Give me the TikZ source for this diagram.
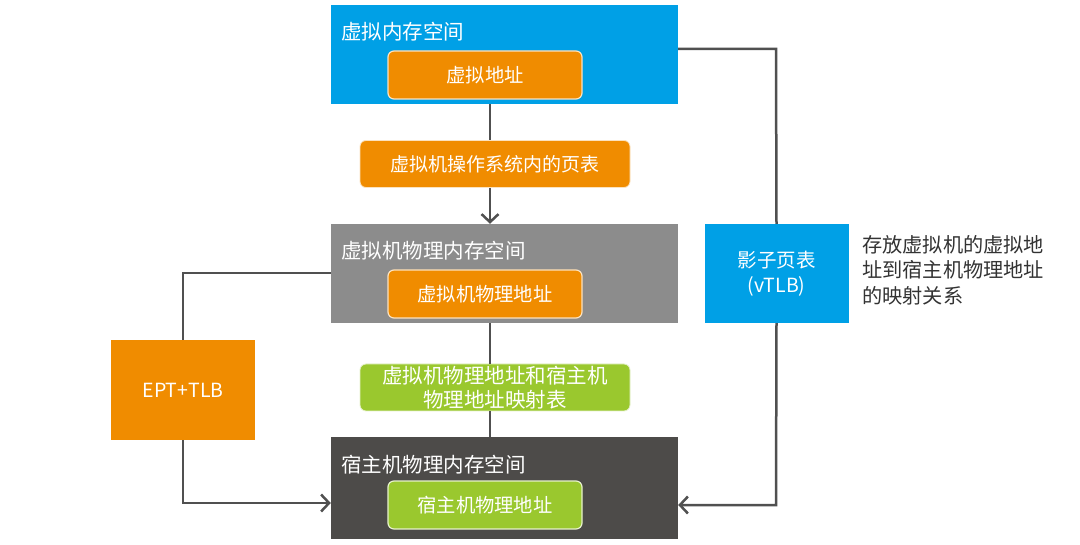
\documentclass[tikz,border=0pt]{standalone}
\usepackage{fontspec}
\setmainfont{Noto Sans CJK SC}
\usetikzlibrary{arrows.meta}
\definecolor{cblue}{RGB}{0,160,230}
\definecolor{corange}{RGB}{240,140,0}
\definecolor{cgray}{RGB}{140,140,140}
\definecolor{cdark}{RGB}{77,75,73}
\definecolor{cgreen}{RGB}{154,200,46}
\definecolor{cline}{RGB}{80,80,80}
\definecolor{ctext}{RGB}{51,51,51}
\begin{document}
\begin{tikzpicture}[x=1pt,y=-1pt,
  space/.style={rectangle, minimum width=347pt, minimum height=99pt, inner sep=0pt},
  inbox/.style={rectangle, rounded corners=6pt, draw=white!75!#1, line width=1.2pt, fill=#1,
    minimum width=194pt, minimum height=48pt, inner sep=0pt, text=white,
    font=\fontsize{19.3}{22}\selectfont},
  midbox/.style={rectangle, rounded corners=6pt, fill=#1, draw=white!75!#1, line width=0.8pt,
    minimum width=270pt, minimum height=47pt, inner sep=0pt, text=white, align=center,
    font=\fontsize{19}{24}\selectfont},
  sidebox/.style={rectangle, fill=#1, minimum width=144pt, minimum height=100pt, inner sep=0pt,
    text=white, align=center, font=\fontsize{19.5}{25}\selectfont},
  title/.style={anchor=west, text=white, inner sep=0pt, font=\fontsize{20.5}{22}\selectfont},
  conn/.style={draw=cline, line width=2.5pt},
  arr/.style={conn, -{Straight Barb[length=8pt,width=17pt,line width=2.5pt]}}
]
\fill[white] (0,0) rectangle (1080,545);
\useasboundingbox (0,0) rectangle (1080,545);

% memory spaces
\node[space, fill=cblue] (vspace) at (504.5,54.5) {};
\node[title] (vtitle) at (341,32) {虚拟内存空间};
\node[inbox=corange] (vaddr) at (485,75) {虚拟地址};

\node[space, fill=cgray] (gspace) at (504.5,273.5) {};
\node[title] (gtitle) at (341,251) {虚拟机物理内存空间};
\node[inbox=corange] (gaddr) at (485,294) {虚拟机物理地址};

\node[space, fill=cdark, minimum height=102pt] (hspace) at (504.5,488) {};
\node[title] (htitle) at (341,465) {宿主机物理内存空间};
\node[inbox=cgreen] (haddr) at (485,505) {宿主机物理地址};

% middle tables
\node[midbox=corange] (pt) at (495,164) {虚拟机操作系统内的页表};
\node[midbox=cgreen, font=\fontsize{20.5}{24}\selectfont] (map) at (495,387.5) {虚拟机物理地址和宿主机\\物理地址映射表};

% side boxes
\node[sidebox=corange] (ept) at (183,390) {EPT+TLB};
\node[sidebox=cblue, minimum height=99pt] (vtlb) at (776.5,273.5) {影子页表\\(vTLB)};
\node[anchor=north west, inner sep=0pt, text=ctext, align=left,
      font=\fontsize{20.2}{25.5}\selectfont] (note) at (862,235)
      {存放虚拟机的虚拟地\\址到宿主机物理地址\\的映射关系};

% connector coordinates
\coordinate (cx) at (490,0);
\coordinate (lx) at (183,273);
\coordinate (ly) at (183,503);
\coordinate (rx) at (776,49);
\coordinate (ry) at (776,505);

% connectors
\draw[conn] (vspace.south -| cx) -- (pt.north -| cx);
\draw[arr] (pt.south -| cx) -- (gspace.north -| cx);
\draw[conn] (gspace.south -| cx) -- (map.north -| cx);
\draw[conn] (map.south -| cx) -- (hspace.north -| cx);

\draw[conn] (gspace.west |- lx) -- (lx) -- (ept.north);
\draw[arr] (ept.south) -- (ly) -- (hspace.west |- ly);

\draw[conn] (vspace.east |- rx) -- (rx) -- (vtlb.north);
\draw[arr] (vtlb.south) -- (ry) -- (hspace.east |- ry);
\end{tikzpicture}
\end{document}
